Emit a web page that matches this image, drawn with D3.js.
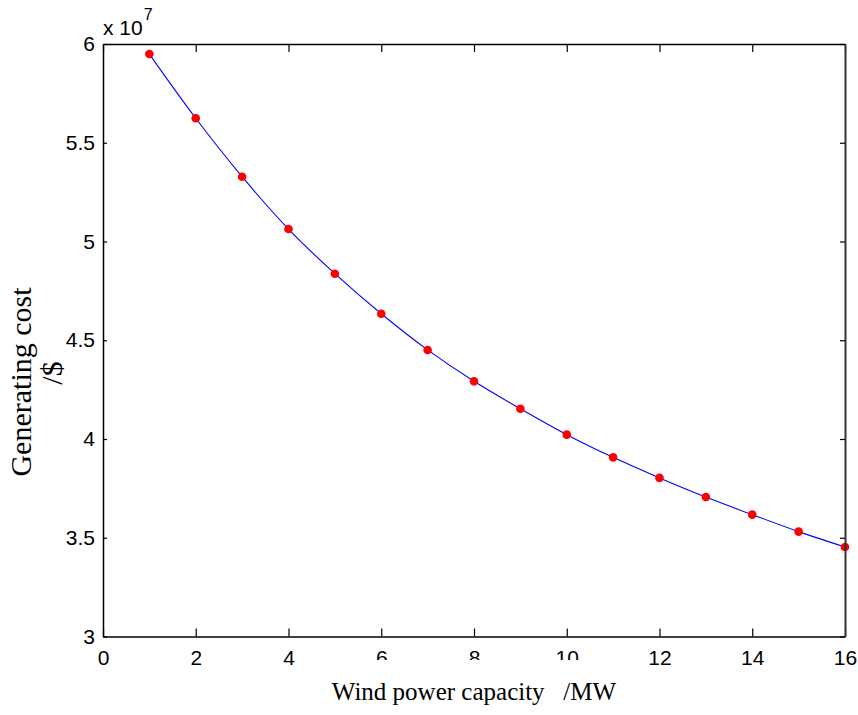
<!DOCTYPE html>
<html><head><meta charset="utf-8">
<script src="https://cdn.jsdelivr.net/npm/d3@7"></script>
<style>body{margin:0;background:#fff}svg{display:block}text{white-space:pre}</style>
</head><body>
<script>
const capacity = [1,2,3,4,5,6,7,8,9,10,11,12,13,14,15,16];
const cost = [5.949,5.624,5.328,5.063,4.837,4.634,4.451,4.292,4.153,4.022,3.907,3.803,3.706,3.617,3.531,3.453];
const xTicks = [0,2,4,6,8,10,12,14,16];
const yTicks = [3,3.5,4,4.5,5,5.5,6];
const xLabel = "Wind power capacity   /MW";
const yLabel1 = "Generating cost";
const yLabel2 = "/$";

const W = 858, H = 715;
const L = 103, R = 845, T = 44, B = 636.5;
const svg = d3.select("body").append("svg").attr("width", W).attr("height", H);
const x = d3.scaleLinear().domain([0,16]).range([L,R]);
const y = d3.scaleLinear().domain([3,6]).range([B,T]);

const tickFont = "Liberation Sans, Arial, sans-serif";
const labFont = "Liberation Serif, Times New Roman, serif";
const fmt = d3.format("~g");

// data line
const line = d3.line().x((d,i)=>x(capacity[i])).y(d=>y(d)).curve(d3.curveCatmullRom);
svg.append("path").datum(cost).attr("d", line).attr("fill","none").attr("stroke","#0000ff").attr("stroke-width",1.1);
svg.selectAll("circle.pt").data(cost).enter().append("circle")
  .attr("cx",(d,i)=>x(capacity[i])).attr("cy",d=>y(d)).attr("r",4.3).attr("fill","#ff0000");

// axes
const gB = svg.append("g").attr("transform",`translate(0,${B})`)
  .call(d3.axisBottom(x).tickValues(xTicks).tickFormat(fmt).tickSizeInner(-8).tickSizeOuter(0));
const gT = svg.append("g").attr("transform",`translate(0,${T})`)
  .call(d3.axisTop(x).tickValues(xTicks).tickSizeInner(-8).tickSizeOuter(0).tickFormat(""));
const gL = svg.append("g").attr("transform",`translate(${L},0)`)
  .call(d3.axisLeft(y).tickValues(yTicks).tickFormat(fmt).tickSizeInner(-4).tickSizeOuter(0));
const gR = svg.append("g").attr("transform",`translate(${R},0)`)
  .call(d3.axisRight(y).tickValues(yTicks).tickSizeInner(-5).tickSizeOuter(0).tickFormat(""));
[gB,gT,gL,gR].forEach(g=>{
  g.selectAll("path.domain").attr("stroke","#000").attr("stroke-width",1.5);
  g.selectAll(".tick line").attr("stroke","#000").attr("stroke-width",1.2);
  g.selectAll("text").attr("font-family",tickFont).attr("font-size",21).attr("fill","#000");
});
gR.select("path.domain").attr("stroke","#333").attr("stroke-width",2);
gB.selectAll(".tick text").attr("y",13.5).attr("dy","0.71em");
gL.selectAll(".tick text").attr("x",-8);

// clip part of tick labels as in reference
svg.append("rect").attr("x",x(5.2)).attr("y",660).attr("width",x(10.8)-x(5.2)).attr("height",10).attr("fill","#fff");

// exponent label
const ex = svg.append("text").attr("x",L).attr("y",35).attr("font-family",tickFont).attr("font-size",21).attr("fill","#000");
ex.append("tspan").text("x 10");
ex.append("tspan").attr("dy",-15).attr("dx",1).attr("font-size",16).text("7");

// axis labels
svg.append("text").attr("x",(335+613)/2).attr("y",700).attr("text-anchor","middle")
  .attr("font-family",labFont).attr("font-size",25).attr("fill","#000").text(xLabel);
svg.append("text").attr("transform","translate(31,382) rotate(-90)").attr("text-anchor","middle")
  .attr("font-family",labFont).attr("font-size",30).attr("fill","#000").text(yLabel1);
svg.append("text").attr("transform","translate(62,373) rotate(-90)").attr("text-anchor","middle")
  .attr("font-family",labFont).attr("font-size",30).attr("fill","#000").text(yLabel2);
</script>
</body></html>
